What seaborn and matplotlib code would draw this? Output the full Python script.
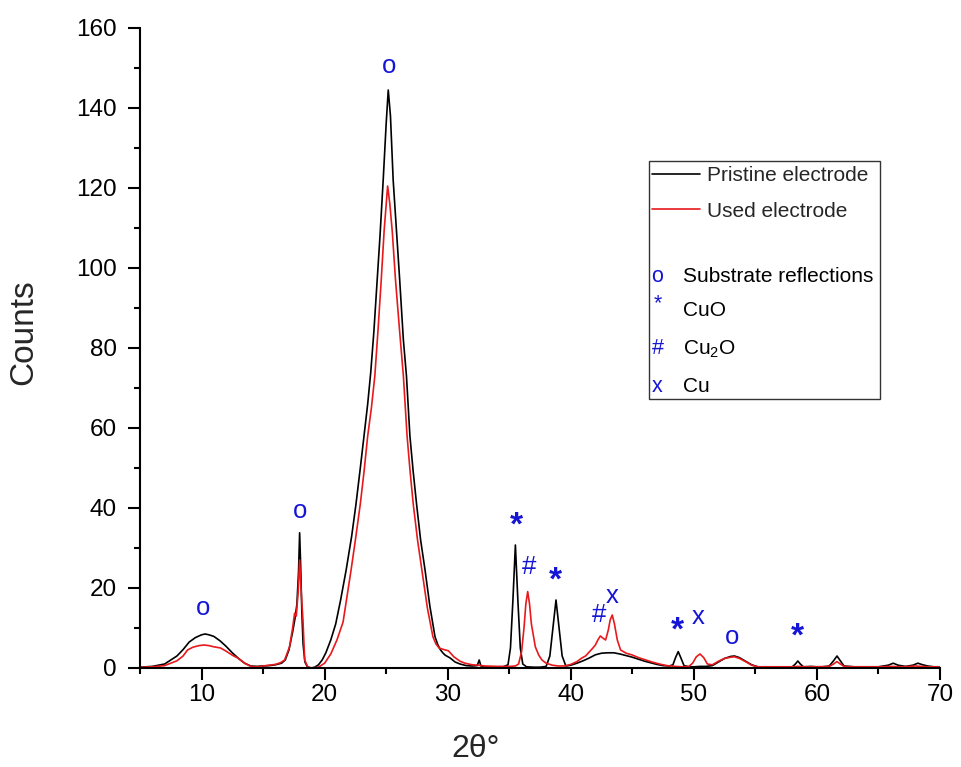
import numpy as np
import pandas as pd
import matplotlib
matplotlib.use("Agg")
import matplotlib.pyplot as plt
import seaborn as sns
from matplotlib.lines import Line2D
from matplotlib.patches import Rectangle

# ---------------- data ----------------
pristine_2theta = [5.0, 6.0, 7.0, 7.5, 8.0, 8.5, 9.0, 9.5, 10.0, 10.3, 10.6, 11.0, 11.5, 12.0, 12.5,
                   13.0, 13.5, 14.0, 14.5, 15.0, 15.5, 16.0, 16.5, 16.8, 17.1, 17.4, 17.6, 17.75, 17.88,
                   17.97, 18.05, 18.15, 18.25, 18.4, 18.6, 18.9, 19.2, 19.5, 19.8, 20.1, 20.5, 20.9,
                   21.3, 21.75, 22.2, 22.55, 22.9, 23.2, 23.5, 23.75, 24.0, 24.27, 24.5, 24.76, 25.0,
                   25.17, 25.35, 25.57, 25.85, 26.1, 26.4, 26.65, 26.93, 27.2, 27.47, 27.8, 28.16,
                   28.55, 28.97, 29.2, 29.4, 29.6, 29.8, 30.2, 30.6, 31.0, 31.5, 32.0, 32.4, 32.56, 32.7, 33.0,
                   33.5, 34.0, 34.5, 34.9, 35.1, 35.3, 35.5, 35.7, 35.9, 36.1, 36.4, 37.0, 37.5, 38.0,
                   38.3, 38.55, 38.8, 39.05, 39.3, 39.6, 40.0, 40.5, 41.0, 41.5, 42.0, 42.5, 43.0,
                   43.5, 44.0, 44.5, 45.0, 45.5, 46.0, 46.5, 47.0, 47.5, 48.0, 48.3, 48.5, 48.73,
                   48.95, 49.2, 49.6, 50.0, 50.5, 51.0, 51.5, 52.0, 52.5, 53.0, 53.3, 53.7, 54.2,
                   54.7, 55.2, 56.0, 57.0, 58.0, 58.25, 58.45, 58.65, 58.9, 59.5, 60.0, 60.5, 61.0,
                   61.35, 61.63, 61.9, 62.2, 63.0, 64.0, 65.0, 65.8, 66.2, 66.6, 67.2, 67.8, 68.2,
                   68.6, 69.0, 69.5, 70.0]
pristine_counts = [0.2, 0.4, 1.0, 2.0, 3.0, 4.6, 6.5, 7.6, 8.3, 8.5, 8.3, 7.9, 6.8, 5.4, 3.8,
                   2.4, 1.2, 0.5, 0.4, 0.5, 0.6, 0.8, 1.2, 2.0, 4.5, 9.0, 12.5, 16.0, 24.0,
                   33.8, 26.0, 14.0, 6.0, 1.5, 0.3, 0.0, 0.2, 0.8, 2.0, 3.8, 7.0, 11.0,
                   17.0, 24.5, 33.0, 41.0, 50.0, 58.0, 66.0, 74.0, 84.0, 97.0, 108.0, 122.0, 136.0,
                   144.5, 138.0, 122.0, 109.0, 97.0, 82.0, 73.0, 58.0, 49.0, 41.0, 32.0, 24.5,
                   15.5, 7.8, 5.8, 4.6, 3.8, 3.2, 2.5, 1.5, 1.0, 0.6, 0.5, 0.6, 2.0, 0.5, 0.3,
                   0.3, 0.3, 0.3, 0.8, 5.0, 17.0, 30.75, 17.0, 5.0, 1.0, 0.3, 0.2, 0.2, 0.4,
                   3.0, 10.0, 17.0, 10.0, 3.0, 0.5, 0.7, 1.2, 1.8, 2.5, 3.3, 3.7, 3.8,
                   3.8, 3.5, 3.1, 2.7, 2.2, 1.7, 1.3, 0.9, 0.6, 0.5, 0.8, 2.5, 4.1,
                   2.5, 0.6, 0.3, 0.3, 0.4, 0.4, 0.6, 1.5, 2.4, 2.9, 3.0, 2.6, 1.7,
                   0.8, 0.3, 0.2, 0.2, 0.3, 1.0, 1.75, 1.0, 0.3, 0.4, 0.3, 0.3, 0.5,
                   1.8, 3.0, 1.8, 0.5, 0.3, 0.3, 0.3, 0.7, 1.2, 0.7, 0.4, 0.7, 1.2,
                   0.8, 0.5, 0.3, 0.3]

used_2theta = [5.0, 6.0, 7.0, 7.5, 8.0, 8.5, 8.86, 9.3, 9.8, 10.2, 10.6, 11.0, 11.55, 12.0, 12.5,
               12.94, 13.5, 14.0, 14.5, 15.0, 15.5, 16.0, 16.4, 16.75, 17.15, 17.4, 17.56, 17.7,
               17.85, 17.97, 18.08, 18.24, 18.38, 18.64, 19.0, 19.5, 20.0, 20.5, 21.0, 21.5, 22.15,
               22.5, 22.9, 23.2, 23.5, 23.8, 24.08, 24.35, 24.6, 24.84, 25.12, 25.3, 25.5, 25.76,
               26.1, 26.4, 26.7, 26.95, 27.2, 27.55, 27.9, 28.35, 28.8, 29.05, 29.3, 29.7, 30.06, 30.5,
               31.0, 31.4, 32.0, 32.5, 33.0, 34.0, 35.0, 35.5, 35.76, 36.0, 36.2, 36.35, 36.5,
               36.65, 36.8, 37.12, 37.4, 37.66, 38.0, 38.5, 39.0, 39.5, 40.0, 40.5, 40.9, 41.2,
               41.74, 42.0, 42.2, 42.4, 42.6, 42.83, 43.05, 43.2, 43.37, 43.55, 43.78, 44.05, 44.5,
               45.0, 45.5, 46.1, 46.6, 47.2, 47.8, 48.5, 49.0, 49.6, 49.9, 50.2, 50.5, 50.8, 51.1,
               51.5, 52.0, 52.5, 53.0, 53.3, 53.7, 54.2, 54.7, 55.2, 56.0, 57.0, 58.0, 58.5, 59.0,
               60.0, 61.0, 61.35, 61.63, 61.9, 62.2, 63.0, 64.0, 65.0, 66.0, 67.0, 68.0, 69.0, 70.0]
used_counts = [0.2, 0.3, 0.6, 1.2, 1.8, 3.0, 4.5, 5.2, 5.6, 5.75, 5.6, 5.3, 5.0, 4.2, 3.2,
               2.5, 1.2, 0.4, 0.3, 0.5, 0.7, 0.9, 1.3, 2.0, 5.3, 10.0, 13.7, 13.0,
               19.0, 27.0, 20.0, 12.0, 2.0, 0.2, 0.0, 0.2, 1.2, 3.5, 7.0, 11.5, 24.5,
               32.0, 41.0, 49.0, 58.0, 65.0, 73.0, 85.0, 97.0, 109.5, 120.5, 116.0, 109.0, 97.0,
               84.0, 73.0, 58.0, 49.0, 41.0, 32.0, 24.5, 15.0, 7.8, 6.0, 5.0, 4.6, 4.3, 2.8,
               1.7, 1.2, 0.8, 0.7, 0.5, 0.4, 0.4, 0.5, 1.0, 4.0, 10.0, 16.0, 19.1,
               16.0, 11.0, 5.3, 3.2, 2.0, 1.2, 0.7, 0.5, 0.5, 0.9, 1.6, 2.5, 3.0,
               4.8, 5.75, 7.0, 8.0, 7.5, 7.0, 9.5, 12.0, 13.25, 11.0, 7.0, 4.5, 3.7,
               3.25, 2.6, 2.0, 1.5, 1.0, 0.6, 0.4, 0.3, 0.4, 1.2, 2.8, 3.5, 2.6, 1.0,
               0.8, 1.7, 2.4, 2.7, 2.8, 2.4, 1.6, 0.7, 0.3, 0.3, 0.3, 0.3, 0.4, 0.3,
               0.3, 0.4, 1.0, 1.6, 1.0, 0.4, 0.3, 0.3, 0.3, 0.4, 0.3, 0.5, 0.3, 0.3]

series_names = ["Pristine electrode", "Used electrode"]
series_colors = ["black", "#e8191c"]

# phase markers: symbol, 2theta, counts
marker_symbols = ["o", "o", "o", "o", "*", "*", "*", "*", "#", "#", "x", "x"]
marker_x = [10.1, 18.0, 25.2, 53.1, 35.6, 38.75, 48.7, 58.4, 36.65, 42.3, 43.35, 50.35]
marker_y = [14.5, 38.75, 150.0, 7.25, 38.0, 24.25, 11.75, 10.25, 24.75, 12.75, 17.5, 12.25]

legend_symbols = ["o", "*", "#", "x"]
legend_labels = ["Substrate reflections", "CuO", "Cu$_\\mathrm{2}$O", "Cu"]

x_ticks = [10, 20, 30, 40, 50, 60, 70]
y_ticks = [0, 20, 40, 60, 80, 100, 120, 140, 160]

# ---------------- figure ----------------
sns.set_style("ticks")
plt.rcParams["font.family"] = ["Liberation Sans", "DejaVu Sans"]
plt.rcParams["mathtext.fontset"] = "custom"
plt.rcParams["mathtext.rm"] = "Liberation Sans"
plt.rcParams["mathtext.it"] = "Liberation Sans:italic"

W, H = 961, 767
AX_L, AX_R, AX_T, AX_B = 140, 940, 28, 668
fig = plt.figure(figsize=(W / 100, H / 100), dpi=100)
ax = fig.add_axes([AX_L / W, 1 - AX_B / H, (AX_R - AX_L) / W, (AX_B - AX_T) / H])

df = pd.concat([
    pd.DataFrame({"2theta": pristine_2theta, "Counts": pristine_counts, "Sample": series_names[0]}),
    pd.DataFrame({"2theta": used_2theta, "Counts": used_counts, "Sample": series_names[1]}),
])
sns.lineplot(data=df, x="2theta", y="Counts", hue="Sample", hue_order=series_names,
             palette=dict(zip(series_names, series_colors)), estimator=None, sort=True,
             linewidth=1.2, legend=False, ax=ax)

ax.set_xlim(5, 70)
ax.set_ylim(0, 160)
ax.set_xticks(x_ticks)
ax.set_xticks(np.arange(5, 71, 5), minor=True)
ax.set_yticks(y_ticks)
ax.set_yticks(np.arange(0, 161, 10), minor=True)
ax.tick_params(axis="both", which="major", direction="out", length=8.5, width=1.5, labelsize=17.5,
               color="black", labelcolor="black")
ax.tick_params(axis="y", which="major", pad=8)
ax.tick_params(axis="x", which="major", pad=3)
ax.tick_params(axis="both", which="minor", direction="out", length=4, width=1.5, color="black")
for s in ["top", "right"]:
    ax.spines[s].set_visible(False)
for s in ["left", "bottom"]:
    ax.spines[s].set_linewidth(1.5)
    ax.spines[s].set_color("black")

ax.set_xlabel("2θ°", fontsize=23)
ax.set_ylabel("Counts", fontsize=24)
ax.xaxis.set_label_coords((476 - AX_L) / (AX_R - AX_L), (AX_B - 734) / (AX_B - AX_T))
ax.yaxis.set_label_coords((39 - AX_L) / (AX_R - AX_L), (AX_B - 332) / (AX_B - AX_T))

# phase markers in the plot
for sym, xv, yv in zip(marker_symbols, marker_x, marker_y):
    if sym == "*":
        ax.annotate(sym, (xv, yv), xytext=(0, -7), textcoords="offset points", ha="center",
                    va="center", fontsize=24, fontweight="bold", color="#1515d6")
    else:
        ax.annotate(sym, (xv, yv), xytext=(0, 1.5), textcoords="offset points", ha="center",
                    va="center", fontsize=18.5, color="#1515d6")

# legend: frame
fig.patches.append(Rectangle((649 / W, 1 - 399 / H), (880 - 649) / W, (399 - 161) / H,
                             transform=fig.transFigure, fill=False, edgecolor="#333333",
                             linewidth=1.0))
handles = [Line2D([], [], color=c, linewidth=1.2) for c in series_colors]
fig.legend(handles, series_names, loc="upper left", bbox_to_anchor=(652 / W, 1 - 166 / H),
           frameon=False, fontsize=15, handlelength=2.3, handletextpad=0.35,
           labelspacing=0.8, borderpad=0, borderaxespad=0)
leg_y = [276, 311, 349, 387]
for sym, lab, yp in zip(legend_symbols, legend_labels, leg_y):
    dy = 7 if sym == "*" else 0
    fig.text(657.5 / W, 1 - (yp - dy) / H, sym, ha="center", va="center", fontsize=15.5,
             color="#1515d6")
    fig.text(683 / W, 1 - yp / H, lab, ha="left", va="center", fontsize=15, color="black")

fig.savefig("out.png", dpi=100)
